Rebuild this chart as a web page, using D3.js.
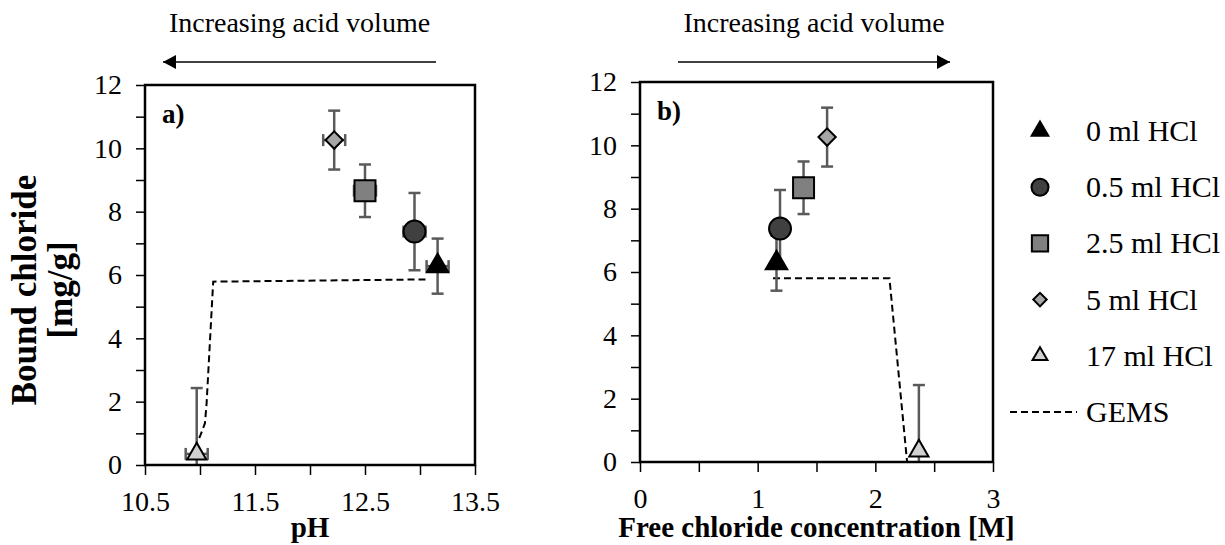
<!DOCTYPE html>
<html lang="en">
<head>
<meta charset="UTF-8">
<title>Bound chloride vs pH and free chloride</title>
<style>
  body { margin: 0; background: #fff; }
  svg { display: block; font-family: "Liberation Serif", "Times New Roman", serif; }
  .axis path { stroke: none; }
  .axis line { stroke: #000; stroke-width: 1.5; }
</style>
</head>
<body>
<svg id="chart" width="1225" height="545"></svg>
<script src="https://d3js.org/d3.v7.min.js"></script>
<script>
const series = ["0 ml HCl", "0.5 ml HCl", "2.5 ml HCl", "5 ml HCl", "17 ml HCl"];
const pH = [13.16, 12.95, 12.5, 12.22, 10.97];
const pHErr = [0.1, 0.1, 0.1, 0.1, 0.1];
const freeCl = [1.16, 1.19, 1.39, 1.59, 2.37];
const bound = [6.28, 7.37, 8.66, 10.26, 0.35];
const boundErr = [0.87, 1.22, 0.83, 0.93, 2.08];

// GEMS model lines
const gemsPH = [13.05, 11.12, 11.06, 11.045, 11.005, 10.985];
const gemsBoundA = [5.86, 5.79, 1.95, 1.32, 0.95, 0.79];
const gemsFree = [1.13, 2.12, 2.27];
const gemsBoundB = [5.8, 5.8, 0];

const yTickLabels = [0, 2, 4, 6, 8, 10, 12];
const pHTickLabels = [10.5, 11.5, 12.5, 13.5];
const freeTickLabels = [0, 1, 2, 3];

const symbols = [d3.symbolTriangle, d3.symbolCircle, d3.symbolSquare, d3.symbolSquare, d3.symbolTriangle];
const sizes = [200, 380, 440, 150, 160];
const rotations = [0, 0, 0, 45, 0];
const fills = ["#000000", "#404040", "#808080", "#a6a6a6", "#d0d0d0"];
const errColor = "#5a5a5a";
const serif = '"Liberation Serif", "Times New Roman", serif';

const svg = d3.select("#chart");

function styleAxis(sel) {
  sel.attr("font-family", serif).attr("font-size", 28);
  sel.selectAll("text")
    .attr("fill", "#000")
    .style("font-family", serif)
    .filter(function () { return this.textContent === ""; }).remove();
}

function drawPanel(opt) {
  const x = d3.scaleLinear().domain(opt.xDomain).range([opt.left, opt.right]);
  const y = d3.scaleLinear().domain([0, 12]).range([opt.bottom, opt.top]);
  const g = svg.append("g");

  g.append("clipPath").attr("id", opt.id + "-clip")
    .append("rect")
    .attr("x", opt.left).attr("y", opt.top)
    .attr("width", opt.right - opt.left).attr("height", opt.bottom - opt.top);

  // axes
  g.append("g").attr("class", "axis")
    .attr("transform", `translate(${opt.left},0)`)
    .call(d3.axisLeft(y).tickValues(d3.range(0, 13)).tickSize(9).tickPadding(14)
      .tickFormat(d => yTickLabels.includes(d) ? d : ""))
    .call(styleAxis);

  g.append("g").attr("class", "axis")
    .attr("transform", `translate(0,${opt.bottom})`)
    .call(d3.axisBottom(x).tickValues(opt.xTicks).tickSize(10).tickPadding(16)
      .tickFormat(d => opt.xLabels.some(v => Math.abs(v - d) < 1e-9) ? d : ""))
    .call(styleAxis);

  const inner = g.append("g").attr("clip-path", `url(#${opt.id}-clip)`);

  // GEMS
  const line = d3.line().x(d => x(d[0])).y(d => y(d[1]));
  inner.append("path")
    .datum(d3.zip(opt.gemsX, opt.gemsY))
    .attr("d", line)
    .attr("fill", "none").attr("stroke", "#000")
    .attr("stroke-width", 2).attr("stroke-dasharray", "7,4");

  const idx = d3.range(series.length);

  // vertical (and horizontal) error bars
  const eb = inner.append("g").attr("stroke", errColor).attr("stroke-width", 2.5).attr("fill", "none");
  idx.forEach(i => {
    const cx = x(opt.xs[i]);
    const y0 = y(bound[i] - boundErr[i]), y1 = y(bound[i] + boundErr[i]);
    eb.append("line").attr("x1", cx).attr("x2", cx).attr("y1", y0).attr("y2", y1);
    eb.append("line").attr("x1", cx - 6).attr("x2", cx + 6).attr("y1", y0).attr("y2", y0);
    eb.append("line").attr("x1", cx - 6).attr("x2", cx + 6).attr("y1", y1).attr("y2", y1);
    if (opt.xErr) {
      const x0 = x(opt.xs[i] - opt.xErr[i]), x1 = x(opt.xs[i] + opt.xErr[i]);
      const cy = y(bound[i]);
      eb.append("line").attr("x1", x0).attr("x2", x1).attr("y1", cy).attr("y2", cy);
      eb.append("line").attr("x1", x0).attr("x2", x0).attr("y1", cy - 6).attr("y2", cy + 6);
      eb.append("line").attr("x1", x1).attr("x2", x1).attr("y1", cy - 6).attr("y2", cy + 6);
    }
  });

  // markers
  inner.selectAll(".mk").data(idx).join("path")
    .attr("class", "mk")
    .attr("d", i => d3.symbol(symbols[i], sizes[i])())
    .attr("transform", i => `translate(${x(opt.xs[i])},${y(bound[i])}) rotate(${rotations[i]})`)
    .attr("fill", i => fills[i])
    .attr("stroke", "#000").attr("stroke-width", 2);

  // frame
  g.append("rect")
    .attr("x", opt.left).attr("y", opt.top)
    .attr("width", opt.right - opt.left).attr("height", opt.bottom - opt.top)
    .attr("fill", "none").attr("stroke", "#000").attr("stroke-width", 2.5);

  g.append("text")
    .attr("x", opt.left + 17).attr("y", opt.top + 38)
    .attr("font-size", 27).attr("font-weight", "bold")
    .text(opt.label);

  g.append("text")
    .attr("x", (opt.left + opt.right) / 2).attr("y", 537)
    .attr("text-anchor", "middle")
    .attr("font-size", 29).attr("font-weight", "bold")
    .text(opt.xTitle);

  // arrow
  const ay = 62;
  g.append("text")
    .attr("x", (opt.arrow[0] + opt.arrow[1]) / 2).attr("y", 32)
    .attr("text-anchor", "middle").attr("font-size", 28)
    .text("Increasing acid volume");
  const tip = opt.arrowDir < 0 ? opt.arrow[0] : opt.arrow[1];
  g.append("line")
    .attr("x1", opt.arrow[0]).attr("x2", opt.arrow[1])
    .attr("y1", ay).attr("y2", ay)
    .attr("stroke", "#000").attr("stroke-width", 1.5);
  g.append("path")
    .attr("d", `M${tip},${ay} L${tip - opt.arrowDir * 13},${ay - 7} L${tip - opt.arrowDir * 13},${ay + 7} Z`)
    .attr("fill", "#000");
}

drawPanel({
  id: "a", left: 145, right: 475, top: 85, bottom: 465,
  xDomain: [10.5, 13.5], xTicks: d3.range(10.5, 13.51, 0.5), xLabels: pHTickLabels,
  xs: pH, xErr: pHErr, gemsX: gemsPH, gemsY: gemsBoundA,
  label: "a)", xTitle: "pH", arrow: [163, 436], arrowDir: -1
});

drawPanel({
  id: "b", left: 640, right: 993, top: 82, bottom: 462,
  xDomain: [0, 3], xTicks: d3.range(0, 3.01, 0.5), xLabels: freeTickLabels,
  xs: freeCl, xErr: null, gemsX: gemsFree, gemsY: gemsBoundB,
  label: "b)", xTitle: "Free chloride concentration [M]", arrow: [678, 950], arrowDir: 1
});

// y axis title
const yt = svg.append("g").attr("font-weight", "bold").attr("font-size", 35).attr("text-anchor", "middle");
yt.append("text").attr("transform", "translate(36,290) rotate(-90)").text("Bound chloride");
yt.append("text").attr("transform", "translate(72,290) rotate(-90)").text("[mg/g]");

// legend
const legend = svg.append("g").attr("transform", "translate(1040,131)");
const rowH = 56.2;
series.forEach((s, i) => {
  const row = legend.append("g").attr("transform", `translate(0,${i * rowH})`);
  row.append("path")
    .attr("d", d3.symbol(symbols[i], sizes[i] * 0.6)())
    .attr("transform", `rotate(${rotations[i]})`)
    .attr("fill", fills[i]).attr("stroke", "#000").attr("stroke-width", 2);
  row.append("text").attr("x", 46).attr("y", 10).attr("font-size", 30).text(s);
});
const gr = legend.append("g").attr("transform", `translate(0,${series.length * rowH})`);
gr.append("line").attr("x1", -30).attr("x2", 37).attr("y1", 0).attr("y2", 0)
  .attr("stroke", "#000").attr("stroke-width", 2).attr("stroke-dasharray", "7,4");
gr.append("text").attr("x", 46).attr("y", 10).attr("font-size", 30).text("GEMS");
</script>
</body>
</html>
